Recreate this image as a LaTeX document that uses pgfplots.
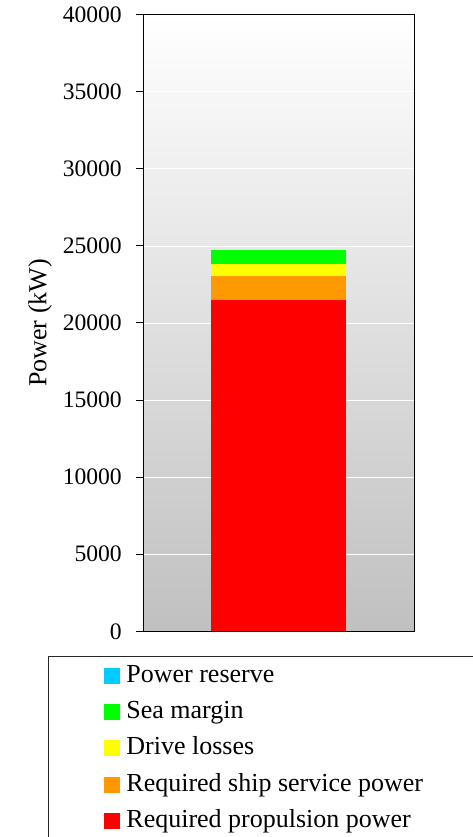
\documentclass[border=0pt]{standalone}
\usepackage{pgfplots}
\pgfplotsset{compat=1.18}
\usepackage{fontspec}
\setmainfont{Liberation Serif}
\definecolor{cred}{RGB}{255,0,0}
\definecolor{corange}{RGB}{255,153,0}
\definecolor{cyellow}{RGB}{255,255,0}
\definecolor{cgreen}{RGB}{0,255,0}
\definecolor{ccyan}{RGB}{0,204,255}
\definecolor{bgbottom}{RGB}{192,192,192}
\pgfplotsset{
  layers/mylayers/.define layer set={axis background,axis grid,pre main,main,axis ticks,axis lines,axis tick labels,axis descriptions,axis foreground}{/pgfplots/layers/standard},
}
\begin{document}
\begin{tikzpicture}
\begin{axis}[
  set layers=mylayers,
  at={(0,0)}, anchor=south west,
  scale only axis, width=270.7pt, height=616.6pt,
  xmin=0, xmax=2, ymin=0, ymax=40000,
  ytick={0,5000,...,40000},
  xtick=\empty,
  ytick pos=left,
  tick align=outside,
  major tick length=7pt,
  axis line style={line width=1pt, black},
  tick style={black, line width=1pt},
  ymajorgrids, grid style={white, line width=0.8pt},
  axis background/.style={shade, top color=white, bottom color=bgbottom},
  scaled y ticks=false,
  /pgf/number format/1000 sep={},
  /pgf/number format/assume math mode=true,
  tick label style={font=\fontsize{23.6}{28}\selectfont},
  yticklabel style={xshift=-11pt},
  ylabel={Power (kW)},
  ylabel style={at={(ticklabel cs:0.5)}},
  ylabel shift=4pt,
  label style={font=\fontsize{26}{30}\selectfont},
  ybar stacked, bar width=134.7pt,
  legend image code/.code={\fill[#1] (0pt,-8pt) rectangle (16pt,8pt);},
  reverse legend,
  legend cell align=left,
  legend style={at={(-0.352,-0.0401)}, anchor=north west, draw=black!85, line width=0.8pt, fill=white, inner xsep=56pt, inner ysep=7pt, font=\fontsize{26}{30}\selectfont, row sep=11.2pt, column sep=6pt, nodes={inner sep=0pt, text height=19pt, text depth=6pt}},
]
\addplot[fill=cred, draw=none] coordinates {(1,21500)};
\addlegendentry{Required propulsion power}
\addplot[fill=corange, draw=none] coordinates {(1,1550)};
\addlegendentry{Required ship service power}
\addplot[fill=cyellow, draw=none] coordinates {(1,780)};
\addlegendentry{Drive losses}
\addplot[fill=cgreen, draw=none] coordinates {(1,910)};
\addlegendentry{Sea margin}
\addplot[fill=ccyan, draw=none] coordinates {(1,0)};
\addlegendentry{Power reserve}
\end{axis}
\pgfresetboundingbox
\useasboundingbox (-143.3pt,-205.7pt) rectangle (328.7pt,631.3pt);
\end{tikzpicture}
\end{document}
